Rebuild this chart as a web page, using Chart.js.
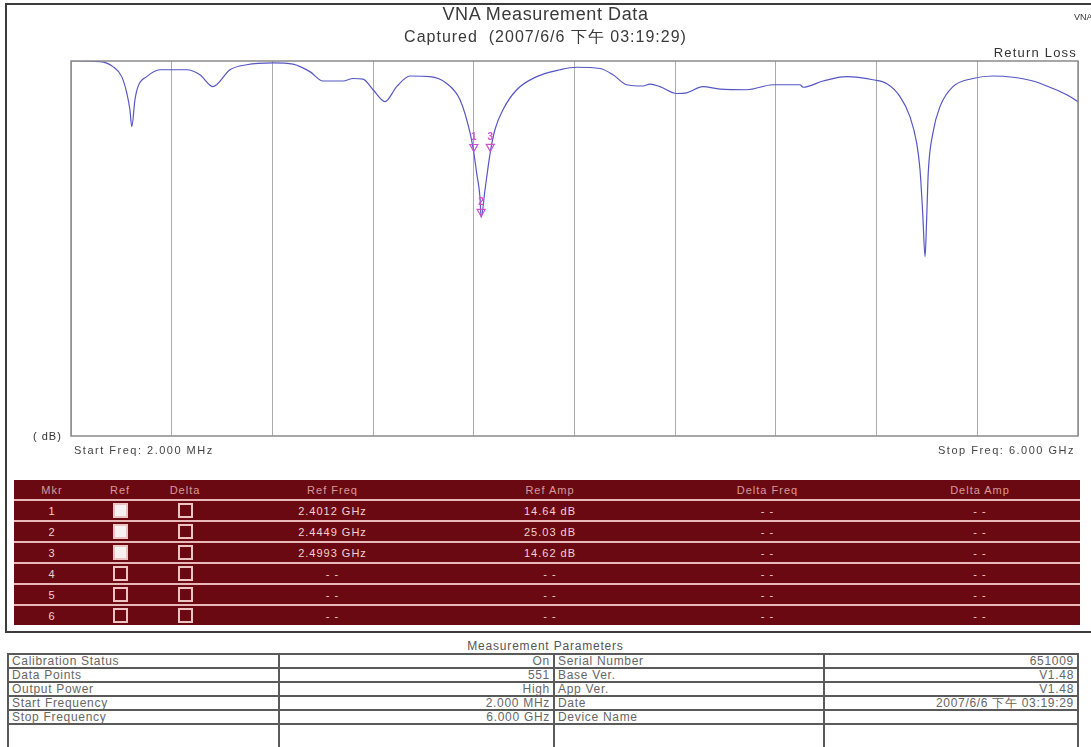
<!DOCTYPE html>
<html>
<head>
<meta charset="utf-8">
<script src="https://cdn.jsdelivr.net/npm/chart.js@4.4.0/dist/chart.umd.min.js"></script>
<style>
  body { margin: 0; background: #fff; font-family: "Liberation Sans", Arial, sans-serif; }
  #pagina { position: relative; width: 1091px; height: 747px; overflow: hidden; }
  #marco { position: absolute; left: 5px; top: 3px; width: 1100px; height: 626px; border: 2px solid #3c3c3c; }
  #grafico { position: absolute; left: 0; top: 0; }
  .txt { position: absolute; white-space: nowrap; line-height: 1; color: #333; }
  #tablaMarcadores { position: absolute; left: 14px; top: 480px; width: 1066px; border-collapse: collapse;
    table-layout: fixed; background: #6b0912; font-size: 11px; letter-spacing: 1px; }
  #tablaMarcadores th { height: 19px; padding: 0; font-weight: normal; color: #d99a9a; text-align: center; }
  #tablaMarcadores td { height: 19px; padding: 0; color: #f0d2d2; text-align: center; border-top: 2px solid #e9b9b9; }
  .caja { display: inline-block; width: 11px; height: 11px; border: 2px solid #ecc4c4; vertical-align: middle; }
  .caja.on { background: #f7f2f2; }
  #tituloParametros { left: 0; width: 1091px; text-align: center; top: 640px; font-size: 12px; color: #555; letter-spacing: 0.8px; }
  #tablaParametros { position: absolute; left: 7px; top: 653px; width: 1070px; border-collapse: collapse;
    table-layout: fixed; font-size: 12px; color: #666; letter-spacing: 0.7px; }
  #tablaParametros td { border: 2px solid #5a5a5a; height: 12px; line-height: 12px; padding: 0 3px; white-space: nowrap; }
  #tablaParametros td.valor { text-align: right; }
</style>
</head>
<body>
<div id="pagina">
  <div id="marco"></div>
  <canvas id="grafico" width="1091" height="470"></canvas>

  <div class="txt" style="left:0;width:1091px;text-align:center;top:5px;font-size:18px;letter-spacing:0.6px;color:#3a3a3a;">VNA Measurement Data</div>
  <div class="txt" style="left:0;width:1091px;text-align:center;top:29px;font-size:16px;letter-spacing:1px;color:#3a3a3a;">Captured&nbsp; (2007/6/6 下午 03:19:29)</div>
  <div class="txt" style="left:1074px;top:13px;font-size:9px;">VNA</div>
  <div class="txt" style="right:14px;top:46px;font-size:13px;letter-spacing:1.2px;">Return Loss</div>
  <div class="txt" style="left:33px;top:431px;font-size:11px;letter-spacing:1px;">( dB)</div>
  <div class="txt" style="left:74px;top:445px;font-size:11px;letter-spacing:1.5px;color:#444;">Start Freq: 2.000 MHz</div>
  <div class="txt" style="right:16px;top:445px;font-size:11px;letter-spacing:1.5px;color:#444;">Stop Freq: 6.000 GHz</div>

  <table id="tablaMarcadores">
    <colgroup>
      <col style="width:76px"><col style="width:60px"><col style="width:70px"><col style="width:225px">
      <col style="width:210px"><col style="width:225px"><col style="width:200px">
    </colgroup>
    <thead><tr><th>Mkr</th><th>Ref</th><th>Delta</th><th>Ref Freq</th><th>Ref Amp</th><th>Delta Freq</th><th>Delta Amp</th></tr></thead>
    <tbody></tbody>
  </table>

  <div class="txt" id="tituloParametros">Measurement Parameters</div>
  <table id="tablaParametros">
    <colgroup><col style="width:271px"><col style="width:275px"><col style="width:270px"><col style="width:254px"></colgroup>
    <tbody></tbody>
  </table>
</div>

<script>
// traza de pérdida de retorno (GHz, dB)
const frecuencias = [0.002, 0.175, 0.252, 0.304, 0.334, 0.353, 0.364, 0.383, 0.401, 0.453, 0.532, 0.691, 0.770, 0.848,
    0.949, 1.048, 1.205, 1.324, 1.425, 1.503, 1.622, 1.682, 1.741, 1.801, 1.872, 1.942, 2.021, 2.140, 2.240, 2.319,
    2.379, 2.4012, 2.418, 2.438, 2.4449, 2.468, 2.4993, 2.527, 2.575, 2.657, 2.776, 2.915, 3.014, 3.153, 3.230, 3.312,
    3.409, 3.451, 3.510, 3.610, 3.669, 3.766, 3.868, 4.027, 4.183, 4.344, 4.362, 4.481, 4.622, 4.779, 4.860, 4.940,
    4.999, 5.039, 5.059, 5.075, 5.089, 5.099, 5.108, 5.136, 5.178, 5.255, 5.374, 5.494, 5.613, 5.732, 5.851, 5.933, 6.000];
const perdidaRetorno = [0.0, 0.1, 0.9, 2.5, 5.1, 7.8, 10.5, 6.2, 4.1, 2.5, 1.4, 1.4, 2.2, 4.1,
    1.4, 0.6, 0.3, 0.5, 1.7, 3.2, 3.2, 2.8, 2.9, 4.6, 6.5, 4.1, 2.4, 2.5, 3.6, 6.2,
    11.5, 14.64, 17.9, 21.8, 25.03, 20.6, 14.62, 11.0, 7.8, 4.6, 2.5, 1.4, 1.0, 1.2, 2.2, 3.8,
    4.0, 3.7, 4.1, 5.2, 5.1, 4.1, 4.5, 4.6, 3.8, 3.8, 4.2, 3.2, 2.5, 3.0, 3.6, 5.7,
    8.9, 13.1, 17.4, 24.3, 31.3, 24.9, 17.9, 11.5, 7.3, 4.1, 2.8, 2.4, 2.6, 3.2, 4.4, 5.4, 6.5];

const frecInicio = 0.002;
const frecFin = 6.0;
const divisiones = 10;
const rangoDb = [0, 60];

// marcadores
const marcadorNumero = [1, 2, 3];
const marcadorFrecuencia = [2.4012, 2.4449, 2.4993];
const marcadorAmplitud = [14.64, 25.03, 14.62];
const filasMarcador = 6;

// parámetros de medición
const paramIzq = ["Calibration Status", "Data Points", "Output Power", "Start Frequency", "Stop Frequency", ""];
const valorIzq = ["On", "551", "High", "2.000 MHz", "6.000 GHz", ""];
const paramDer = ["Serial Number", "Base Ver.", "App Ver.", "Date", "Device Name", ""];
const valorDer = ["651009", "V1.48", "V1.48", "2007/6/6 下午 03:19:29", "", ""];

const pluginMarco = {
    id: 'marco',
    afterDatasetsDraw(chart) {
        const { ctx, chartArea: a, scales: { x, y } } = chart;
        ctx.save();
        ctx.strokeStyle = '#8a8a8a';
        ctx.lineWidth = 1.5;
        ctx.strokeRect(a.left, a.top, a.right - a.left, a.bottom - a.top);

        ctx.strokeStyle = '#cf4fd0';
        ctx.fillStyle = '#cf4fd0';
        ctx.lineWidth = 1.2;
        ctx.font = 'bold 10px "Liberation Sans", Arial, sans-serif';
        ctx.textAlign = 'center';
        ctx.textBaseline = 'bottom';
        marcadorFrecuencia.forEach((f, i) => {
            const px = x.getPixelForValue(f);
            const py = y.getPixelForValue(marcadorAmplitud[i]);
            ctx.beginPath();
            ctx.moveTo(px, py - 1);
            ctx.lineTo(px - 4, py - 8);
            ctx.lineTo(px + 4, py - 8);
            ctx.closePath();
            ctx.stroke();
            ctx.fillText(String(marcadorNumero[i]), px, py - 10);
        });
        ctx.restore();
    }
};

const ctx = document.getElementById('grafico').getContext('2d');
new Chart(ctx, {
    type: 'line',
    data: {
        datasets: [{
            label: 'Return Loss',
            data: frecuencias.map((f, i) => ({ x: f, y: perdidaRetorno[i] })),
            borderColor: '#5656c6',
            borderWidth: 1.2,
            pointRadius: 0,
            fill: false,
            cubicInterpolationMode: 'monotone'
        }]
    },
    options: {
        responsive: false,
        animation: false,
        devicePixelRatio: 1,
        layout: { padding: { left: 71, top: 61, right: 13, bottom: 34 } },
        plugins: { legend: { display: false }, tooltip: { enabled: false } },
        scales: {
            x: {
                type: 'linear',
                min: frecInicio,
                max: frecFin,
                afterBuildTicks: (scale) => {
                    const paso = (frecFin - frecInicio) / divisiones;
                    scale.ticks = Array.from({ length: divisiones + 1 }, (_, k) => ({ value: frecInicio + k * paso }));
                },
                ticks: { display: false },
                grid: { color: '#ababab', lineWidth: 1, drawTicks: false },
                border: { display: false }
            },
            y: {
                min: rangoDb[0],
                max: rangoDb[1],
                reverse: true,
                ticks: { display: false },
                grid: { display: false, drawTicks: false },
                border: { display: false }
            }
        }
    },
    plugins: [pluginMarco]
});

const tbody = document.querySelector('#tablaMarcadores tbody');
for (let i = 0; i < filasMarcador; i++) {
    const activo = i < marcadorNumero.length;
    const tr = document.createElement('tr');
    tr.innerHTML = `
        <td>${i + 1}</td>
        <td><span class="caja${activo ? ' on' : ''}"></span></td>
        <td><span class="caja"></span></td>
        <td>${activo ? marcadorFrecuencia[i].toFixed(4) + ' GHz' : '- -'}</td>
        <td>${activo ? marcadorAmplitud[i].toFixed(2) + ' dB' : '- -'}</td>
        <td>- -</td>
        <td>- -</td>
    `;
    tbody.appendChild(tr);
}

const tbodyParam = document.querySelector('#tablaParametros tbody');
paramIzq.forEach((p, i) => {
    const tr = document.createElement('tr');
    tr.innerHTML = `<td>${p}</td><td class="valor">${valorIzq[i]}</td><td>${paramDer[i]}</td><td class="valor">${valorDer[i]}</td>`;
    if (i === paramIzq.length - 1) tr.querySelectorAll('td').forEach(td => td.style.height = '22px');
    tbodyParam.appendChild(tr);
});
</script>
</body>
</html>
